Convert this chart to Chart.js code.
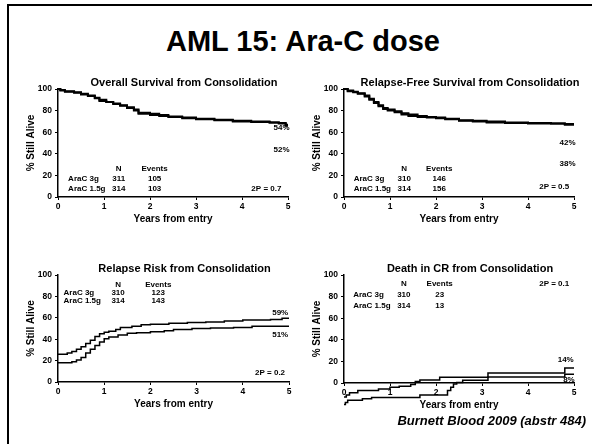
<!DOCTYPE html>
<html>
<head>
<meta charset="utf-8">
<script src="https://cdn.jsdelivr.net/npm/chart.js@4/dist/chart.umd.min.js"></script>
<style>
html, body { margin: 0; padding: 0; background: #fff; }
#slide { position: relative; width: 592px; height: 444px; overflow: hidden; font-family: "Liberation Sans", Arial, sans-serif; color: #000; }
#frame { position: absolute; left: 7px; top: 4px; right: -10px; bottom: -10px; border-left: 2px solid #000; border-top: 2px solid #000; }
h1 { position: absolute; left: 0; width: 606px; top: 27px; margin: 0; font-size: 29px; line-height: 29px; font-weight: bold; text-align: center; }
#ref { position: absolute; right: 6px; top: 414px; font-size: 13px; line-height: 13px; font-weight: bold; font-style: italic; }
canvas { position: absolute; }
#c1 { left: 25px; top: 75px; }
#c2 { left: 311px; top: 75px; }
#c3 { left: 25px; top: 261px; }
#c4 { left: 311px; top: 261px; }
</style>
</head>
<body>
<div id="slide">
  <div id="frame"></div>
  <h1>AML 15: Ara-C dose</h1>
  <canvas id="c1" width="326" height="150"></canvas>
  <canvas id="c2" width="326" height="150"></canvas>
  <canvas id="c3" width="327" height="149"></canvas>
  <canvas id="c4" width="326" height="150"></canvas>
  <div id="ref">Burnett Blood 2009 (abstr 484)</div>
</div>
<script>
// arms and summary numbers
const arms = ['AraC 3g', 'AraC 1.5g'];
const osN = [311, 314], osEvents = [105, 103];
const rfsN = [310, 314], rfsEvents = [146, 156];
const rrN = [310, 314], rrEvents = [123, 143];
const dcrN = [310, 314], dcrEvents = [23, 13];

const osEnd = ['54%', '52%'];
const rfsEnd = ['42%', '38%'];
const rrEnd = ['59%', '51%'];
const dcrEnd = ['14%', '8%'];
const pValues = ['2P = 0.7', '2P = 0.5', '2P = 0.2', '2P = 0.1'];

const panelTitles = [
    'Overall Survival from Consolidation',
    'Relapse-Free Survival from Consolidation',
    'Relapse Risk from Consolidation',
    'Death in CR from Consolidation'
];
const xTitle = 'Years from entry';
const yTitle = '% Still Alive';

// overall survival (years, %)
const os3gT = [0, 0.05, 0.15, 0.35, 0.5, 0.65, 0.8, 0.9, 1.05, 1.2, 1.35, 1.5, 1.65, 1.75, 2.0, 2.2, 2.4, 2.7, 3.0, 3.4, 3.8, 4.2, 4.6, 4.8, 4.95, 5];
const os3g = [100, 99, 98, 97, 95.5, 94, 92, 90, 88, 86.5, 85, 83, 81, 78, 77, 76, 74.5, 73.5, 72.5, 71.5, 70.5, 70, 69, 68.5, 67, 67];
const os15gT = [0, 0.05, 0.15, 0.35, 0.5, 0.65, 0.8, 0.9, 1.05, 1.2, 1.35, 1.5, 1.65, 1.75, 2.0, 2.2, 2.4, 2.7, 3.0, 3.4, 3.8, 4.2, 4.6, 4.8, 4.95, 5];
const os15g = [100, 98.5, 97.5, 96.5, 95, 93.5, 91.5, 89, 88, 86, 84.5, 82.5, 80, 77, 76, 75, 74, 73, 72, 71, 70, 69.5, 69, 68, 66, 66];

// relapse-free survival
const rfs3gT = [0, 0.08, 0.2, 0.3, 0.45, 0.55, 0.65, 0.75, 0.85, 0.95, 1.1, 1.25, 1.4, 1.6, 1.8, 2.0, 2.2, 2.5, 2.8, 3.1, 3.5, 4.0, 4.5, 4.8, 5];
const rfs3g = [100, 98.5, 97.5, 96, 94, 91, 88, 85, 82.5, 81, 79.5, 77.5, 76.5, 75, 74, 73.5, 72.5, 71, 70.5, 70, 69, 68.5, 68, 67.5, 67.5];
const rfs15gT = [0, 0.08, 0.2, 0.3, 0.45, 0.55, 0.65, 0.75, 0.85, 0.95, 1.1, 1.25, 1.4, 1.6, 1.8, 2.0, 2.2, 2.5, 2.8, 3.1, 3.5, 4.0, 4.5, 4.8, 5];
const rfs15g = [100, 98, 97, 95.5, 93, 90, 87, 84, 81.5, 80, 78.5, 76.5, 75, 74, 73.5, 73, 72, 70.5, 70, 69, 68.5, 68, 68, 67, 67];

// relapse risk
const rr3gT = [0, 0.3, 0.4, 0.5, 0.6, 0.7, 0.8, 0.9, 1.0, 1.1, 1.3, 1.5, 1.7, 2.0, 2.3, 2.5, 2.9, 3.3, 3.8, 4.2, 5];
const rr3g = [18, 19, 20.5, 23, 27, 30.5, 34, 37.5, 40.5, 42, 44, 45.5, 46, 47, 48, 49, 50, 50.5, 51, 52, 52];
const rr15gT = [0, 0.2, 0.3, 0.4, 0.5, 0.6, 0.7, 0.8, 0.9, 1.0, 1.1, 1.25, 1.35, 1.6, 1.8, 2.0, 2.4, 2.8, 3.2, 3.6, 4.0, 4.6, 4.85, 5];
const rr15g = [26, 27, 28.5, 30.5, 33, 36, 39, 42.5, 45, 46.5, 47.5, 49, 51, 52, 53.5, 54, 55, 55.5, 56, 57, 58, 58.5, 59.5, 59.5];

// death in CR (drawn below the axis in the original)
const dcr3gT = [0, 0.05, 0.12, 0.3, 0.75, 1.0, 1.2, 1.45, 1.55, 1.65, 2.08, 3.13, 4.8, 5];
const dcr3g = [-13, -11, -9, -7, -5.5, -4, -3, -1.5, 1.5, 2.8, 5.3, 9.3, 14, 14];
const dcr15gT = [0, 0.03, 0.08, 0.4, 0.6, 1.65, 2.25, 2.32, 2.38, 2.45, 2.58, 3.13, 4.8, 5];
const dcr15g = [-20, -18, -16, -14.5, -13.5, -11, -7, -4, -1, 0.5, 2.5, 5.5, 8, 8];

Chart.defaults.font.family = '"Liberation Sans", Arial, sans-serif';
Chart.defaults.color = '#000';

const FONT = '"Liberation Sans", Arial, sans-serif';

function points(ts, vs) {
    return ts.map((t, i) => ({ x: t, y: vs[i] }));
}

// table of N / Events, placed in data units
function tableNotes(nArr, evArr, pos) {
    const out = [];
    out.push({ text: 'N', x: pos.n, y: pos.top, align: 'center' });
    out.push({ text: 'Events', x: pos.ev, y: pos.top, align: 'center' });
    arms.forEach((arm, i) => {
        const yy = pos.top - pos.dy * (i + 1);
        out.push({ text: arm, x: pos.arm, y: yy, align: 'left' });
        out.push({ text: String(nArr[i]), x: pos.n, y: yy, align: 'center' });
        out.push({ text: String(evArr[i]), x: pos.ev, y: yy, align: 'center' });
    });
    return out;
}

function notesPlugin(items) {
    return {
        id: 'notes',
        afterDatasetsDraw(chart) {
            const { ctx, scales } = chart;
            ctx.save();
            ctx.fillStyle = '#000';
            ctx.font = 'bold 8px ' + FONT;
            ctx.textBaseline = 'middle';
            items.forEach(it => {
                ctx.textAlign = it.align;
                ctx.fillText(it.text, scales.x.getPixelForValue(it.x), scales.y.getPixelForValue(it.y));
            });
            ctx.restore();
        }
    };
}

function makePanel(id, title, curves, items, lineWidth) {
    const ctx = document.getElementById(id).getContext('2d');
    return new Chart(ctx, {
        type: 'line',
        data: {
            datasets: curves.map(c => ({
                data: c,
                yAxisID: 'y',
                borderColor: '#000',
                borderWidth: lineWidth,
                pointRadius: 0,
                stepped: true,
                fill: false,
                clip: false
            }))
        },
        options: {
            responsive: false,
            animation: false,
            layout: { padding: { left: 0, right: 8, top: 0, bottom: 0 } },
            plugins: {
                legend: { display: false },
                tooltip: { enabled: false },
                title: {
                    display: true,
                    text: title,
                    color: '#000',
                    font: { size: 11, weight: 'bold', lineHeight: 1.0 },
                    padding: { top: 2, bottom: 1 }
                }
            },
            scales: {
                x: {
                    type: 'linear',
                    min: 0,
                    max: 5,
                    afterFit: s => { s.height = 28; },
                    ticks: { stepSize: 1, autoSkip: false, padding: 2, font: { size: 8.5, weight: 'bold' } },
                    grid: { drawOnChartArea: false, drawTicks: true, tickLength: 3, color: '#000', lineWidth: 1 },
                    border: { color: '#000', width: 1.5 },
                    title: { display: true, text: xTitle, font: { size: 10, weight: 'bold' }, padding: { top: 0, bottom: 0 } }
                },
                y: {
                    position: 'left',
                    min: 0,
                    max: 100,
                    afterFit: s => { s.width = 33; },
                    ticks: { stepSize: 20, padding: 3, font: { size: 8.5, weight: 'bold' } },
                    grid: { drawOnChartArea: false, drawTicks: true, tickLength: 3, color: '#000', lineWidth: 1 },
                    border: { color: '#000', width: 1.5 },
                    title: { display: true, text: yTitle, font: { size: 10, weight: 'bold' }, padding: { top: 0, bottom: 0 } }
                },
                // empty right margin so the panel title sits where the slide had it
                side: {
                    type: 'linear',
                    position: 'right',
                    afterFit: s => { s.width = 55; },
                    ticks: { display: false },
                    grid: { display: false, drawTicks: false },
                    border: { display: false }
                }
            }
        },
        plugins: [notesPlugin(items)]
    });
}

makePanel('c1', panelTitles[0],
    [points(os3gT, os3g), points(os15gT, os15g)],
    tableNotes(osN, osEvents, { arm: 0.22, n: 1.32, ev: 2.1, top: 26.4, dy: 9.3 }).concat([
        { text: osEnd[0], x: 4.86, y: 64.3, align: 'center' },
        { text: osEnd[1], x: 4.86, y: 43.5, align: 'center' },
        { text: pValues[0], x: 4.53, y: 7.8, align: 'center' }
    ]), 2);

makePanel('c2', panelTitles[1],
    [points(rfs3gT, rfs3g), points(rfs15gT, rfs15g)],
    tableNotes(rfsN, rfsEvents, { arm: 0.21, n: 1.31, ev: 2.07, top: 26.4, dy: 9.3 }).concat([
        { text: rfsEnd[0], x: 4.86, y: 50.6, align: 'center' },
        { text: rfsEnd[1], x: 4.86, y: 30.4, align: 'center' },
        { text: pValues[1], x: 4.57, y: 9.3, align: 'center' }
    ]), 2);

makePanel('c3', panelTitles[2],
    [points(rr3gT, rr3g), points(rr15gT, rr15g)],
    tableNotes(rrN, rrEvents, { arm: 0.12, n: 1.3, ev: 2.17, top: 91.3, dy: 7.6 }).concat([
        { text: rrEnd[0], x: 4.81, y: 64.3, align: 'center' },
        { text: rrEnd[1], x: 4.81, y: 44, align: 'center' },
        { text: pValues[2], x: 4.59, y: 9, align: 'center' }
    ]), 1.5);

makePanel('c4', panelTitles[3],
    [points(dcr3gT, dcr3g), points(dcr15gT, dcr15g)],
    tableNotes(dcrN, dcrEvents, { arm: 0.2, n: 1.3, ev: 2.08, top: 91.7, dy: 10 }).concat([
        { text: dcrEnd[0], x: 4.82, y: 21.7, align: 'center' },
        { text: dcrEnd[1], x: 4.89, y: 3.2, align: 'center' },
        { text: pValues[3], x: 4.57, y: 91.7, align: 'center' }
    ]), 1.5);
</script>
</body>
</html>
